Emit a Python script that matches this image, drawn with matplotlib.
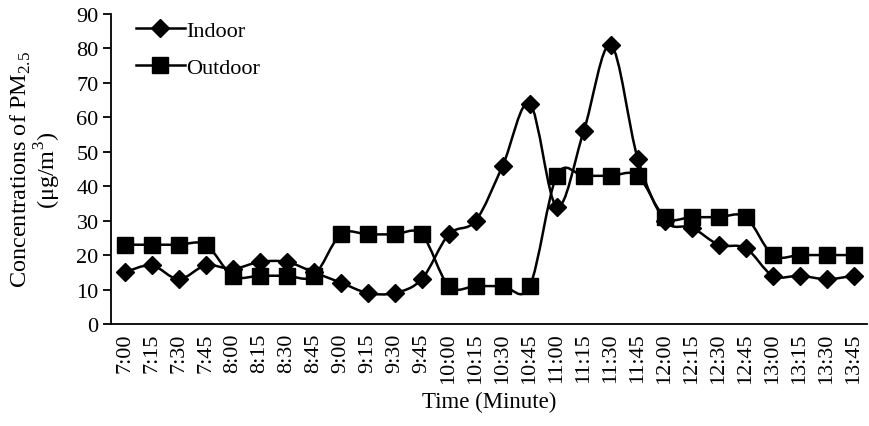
import matplotlib
matplotlib.use("Agg")
import matplotlib.pyplot as plt
import numpy as np
from matplotlib.path import Path
from matplotlib.patches import PathPatch
from matplotlib.lines import Line2D

plt.rcParams["font.family"] = ["Liberation Serif", "DejaVu Serif"]
plt.rcParams["mathtext.fontset"] = "custom"
plt.rcParams["mathtext.rm"] = "Liberation Serif"

times = ["7:00", "7:15", "7:30", "7:45", "8:00", "8:15", "8:30", "8:45",
         "9:00", "9:15", "9:30", "9:45", "10:00", "10:15", "10:30", "10:45",
         "11:00", "11:15", "11:30", "11:45", "12:00", "12:15", "12:30", "12:45",
         "13:00", "13:15", "13:30", "13:45"]
indoor = [15, 17, 13, 17, 16, 18, 18, 15, 12, 9, 9, 13, 26, 30, 46, 64,
          34, 56, 81, 48, 30, 28, 23, 22, 14, 14, 13, 14]
outdoor = [23, 23, 23, 23, 14, 14, 14, 14, 26, 26, 26, 26, 11, 11, 11, 11,
           43, 43, 43, 43, 31, 31, 31, 31, 20, 20, 20, 20]


def smooth_path(x, y):
    # cubic Bezier through every point, spreadsheet-style smoothing
    x = np.asarray(x, float); y = np.asarray(y, float)
    n = len(x)
    verts = [(x[0], y[0])]
    codes = [Path.MOVETO]
    for i in range(n - 1):
        x0, y0 = (x[i - 1], y[i - 1]) if i > 0 else (x[i], y[i])
        x3, y3 = (x[i + 2], y[i + 2]) if i + 2 < n else (x[i + 1], y[i + 1])
        c1 = (x[i] + (x[i + 1] - x0) / 6, y[i] + (y[i + 1] - y0) / 6)
        c2 = (x[i + 1] - (x3 - x[i]) / 6, y[i + 1] - (y3 - y[i]) / 6)
        verts += [c1, c2, (x[i + 1], y[i + 1])]
        codes += [Path.CURVE4] * 3
    return Path(verts, codes)


fig = plt.figure(figsize=(8.69, 4.27), dpi=100)
ax = fig.add_axes([0.128, 0.239, 0.870, 0.726])
xs = np.arange(len(times))

for vals, mk, ms in ((indoor, "D", 9), (outdoor, "s", 12)):
    ax.add_patch(PathPatch(smooth_path(xs, vals), fill=False, lw=1.8,
                           ec="black", zorder=2))
    ax.plot(xs, vals, ls="none", marker=mk, ms=ms, color="black", zorder=3)

ax.set_xlim(-0.5, len(times) - 0.5)
ax.set_ylim(0, 90)
ax.set_yticks(range(0, 91, 10))
ax.set_xticks(xs)
ax.set_xticklabels(times, rotation=90)
ax.tick_params(axis="x", length=0, labelsize=16, pad=6)
ax.tick_params(axis="y", length=6, width=1.3, labelsize=16, pad=3)
for s in ("top", "right"):
    ax.spines[s].set_visible(False)
for s in ("left", "bottom"):
    ax.spines[s].set_linewidth(1.3)

ax.set_xlabel("Time (Minute)", fontsize=16.5, va="top")
ax.xaxis.set_label_coords(0.5, -0.215)
ax.set_ylabel("Concentrations of PM$_{2.5}$\n(\u03bcg/m$^3$)", fontsize=17.5,
              linespacing=1.0)
ax.yaxis.set_label_coords(-0.064, 0.50)

handles = [Line2D([], [], color="black", lw=1.8, marker="D", ms=9),
           Line2D([], [], color="black", lw=1.8, marker="s", ms=12)]
ax.legend(handles, ["Indoor", "Outdoor"], loc="upper left",
          bbox_to_anchor=(0.006, 1.045), frameon=False, fontsize=16,
          handlelength=2.2, handletextpad=0.05, labelspacing=0.75)

fig.savefig("out.png", dpi=100)
